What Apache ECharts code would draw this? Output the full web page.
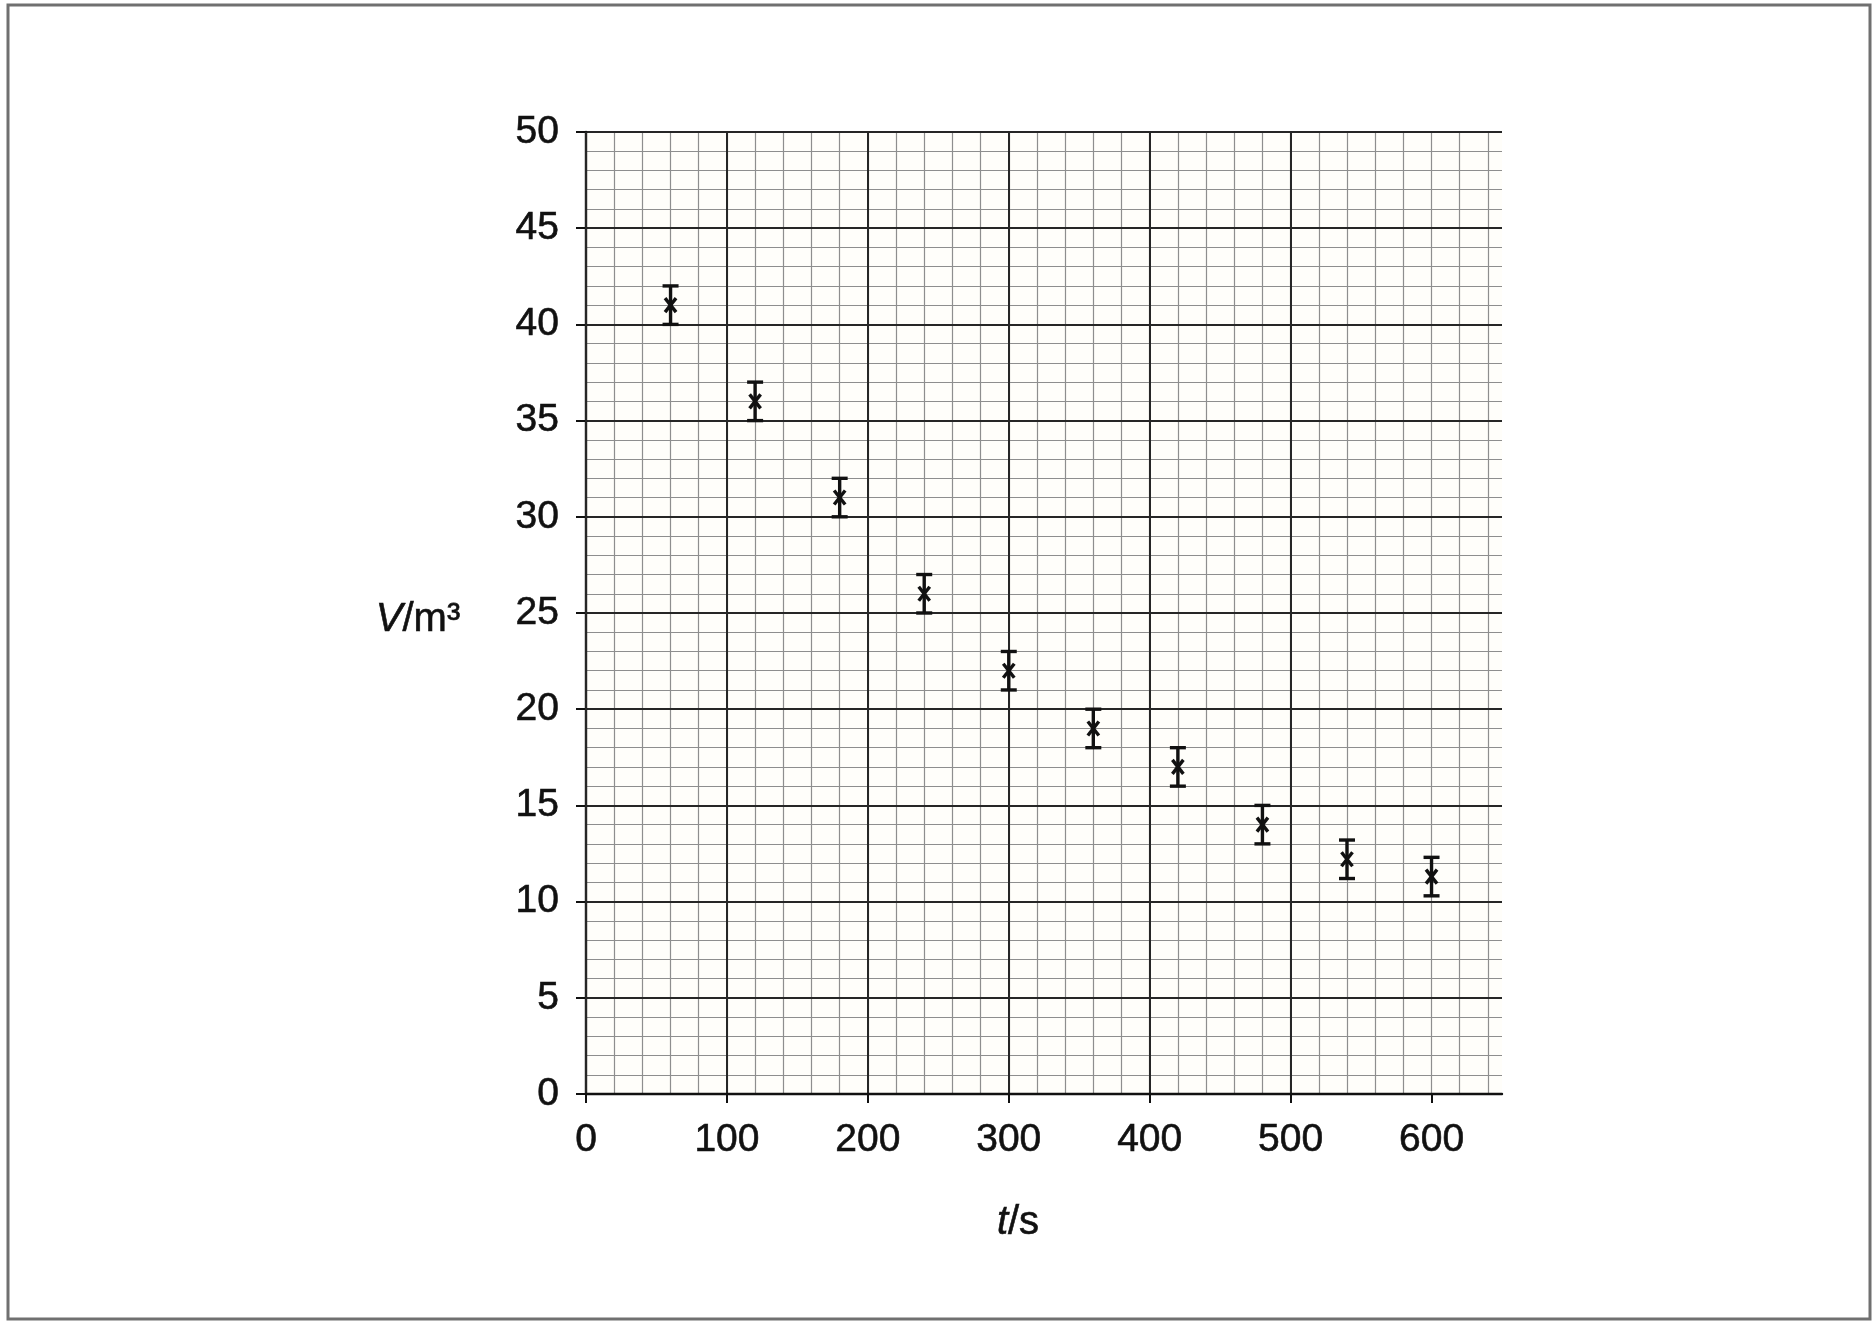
<!DOCTYPE html>
<html><head><meta charset="utf-8">
<script src="https://cdn.jsdelivr.net/npm/echarts@6/dist/echarts.min.js"></script>
<style>html,body{margin:0;padding:0;background:#fff}#c{width:1876px;height:1321px}</style>
</head><body><div id="c"></div>
<script>
// Data
const times = [60, 120, 180, 240, 300, 360, 420, 480, 540, 600];          // t / s
const volumes = [41, 36, 31, 26, 22, 19, 17, 14, 12.2, 11.3];             // V / m^3
const errors = [1, 1, 1, 1, 1, 1, 1, 1, 1, 1];                            // ± error
const xTickValues = [0, 100, 200, 300, 400, 500, 600];
const yTickValues = [0, 5, 10, 15, 20, 25, 30, 35, 40, 45, 50];

const FONT = "'Liberation Sans', Arial, sans-serif";
const INK = '#111111';
const MAJOR = '#262626';
const MINOR = '#8e8e8e';

const chart = echarts.init(document.getElementById('c'), null, {renderer: 'canvas'});

const seriesData = times.map((t, i) => [t, volumes[i], errors[i]]);

const labelStyle = {fontSize: 39, color: INK, fontFamily: FONT, textBorderColor: INK, textBorderWidth: 0.6};

chart.setOption({
  backgroundColor: '#ffffff',
  animation: false,
  grid: {left: 586, top: 132, width: 916, height: 962, show: true, backgroundColor: '#fffefa', borderWidth: 0},
  xAxis: [
    {
      type: 'value', min: 0, max: 650, interval: 100, position: 'bottom', z: 3,
      axisLine: {show: true, onZero: false, lineStyle: {color: INK, width: 2.4}},
      axisTick: {show: true, length: 9, customValues: xTickValues, lineStyle: {color: INK, width: 2}},
      axisLabel: Object.assign({customValues: xTickValues, margin: 27}, labelStyle),
      splitLine: {show: true, showMaxLine: false, lineStyle: {color: MAJOR, width: 2}}
    },
    {
      type: 'value', min: 0, max: 650, interval: 20, position: 'top', z: 1,
      axisLine: {show: false}, axisTick: {show: false}, axisLabel: {show: false},
      splitLine: {show: true, showMaxLine: false, showMinLine: false, lineStyle: {color: MINOR, width: 1.2}}
    }
  ],
  yAxis: {
    type: 'value', min: 0, max: 50, interval: 5, z: 2,
    axisLine: {show: true, onZero: false, lineStyle: {color: INK, width: 2.4}},
    axisTick: {show: true, length: 10, lineStyle: {color: INK, width: 2}},
    axisLabel: Object.assign({customValues: yTickValues, margin: 27}, labelStyle),
    splitLine: {show: true, lineStyle: {color: MAJOR, width: 2}},
    minorTick: {show: false, splitNumber: 5},
    minorSplitLine: {show: true, lineStyle: {color: MINOR, width: 1.2}}
  },
  series: [{
    type: 'custom',
    xAxisIndex: 0,
    yAxisIndex: 0,
    z: 10,
    data: seriesData,
    encode: {x: 0, y: 1},
    renderItem: function (params, api) {
      const x = api.value(0), y = api.value(1), e = api.value(2);
      const c = api.coord([x, y]);
      const hi = api.coord([x, y + e]);
      const lo = api.coord([x, y - e]);
      const cap = 8, s = 5.5;
      const st = {stroke: INK, lineWidth: 3.4};
      return {
        type: 'group',
        children: [
          {type: 'line', shape: {x1: c[0], y1: hi[1], x2: c[0], y2: lo[1]}, style: st},
          {type: 'line', shape: {x1: c[0] - cap, y1: hi[1], x2: c[0] + cap, y2: hi[1]}, style: st},
          {type: 'line', shape: {x1: c[0] - cap, y1: lo[1], x2: c[0] + cap, y2: lo[1]}, style: st},
          {type: 'line', shape: {x1: c[0] - s, y1: c[1] - s - 1.5, x2: c[0] + s, y2: c[1] + s + 1.5}, style: st},
          {type: 'line', shape: {x1: c[0] - s, y1: c[1] + s + 1.5, x2: c[0] + s, y2: c[1] - s - 1.5}, style: st}
        ]
      };
    }
  }],
  graphic: [
    {type: 'rect', silent: true, z: 0,
      shape: {x: 8, y: 5, width: 1862, height: 1314},
      style: {fill: 'none', stroke: '#707070', lineWidth: 3}},
    {type: 'text', z: 20, x: 418, y: 620,
      style: {text: '{i|V}/m³', fill: INK, font: '40px ' + FONT, textAlign: 'center', textVerticalAlign: 'middle',
        stroke: INK, lineWidth: 0.6,
        rich: {i: {fontStyle: 'italic', fontSize: 40, fontFamily: FONT, fill: INK}}}},
    {type: 'text', z: 20, x: 1018, y: 1223,
      style: {text: '{i|t}/s', fill: INK, font: '40px ' + FONT, textAlign: 'center', textVerticalAlign: 'middle',
        stroke: INK, lineWidth: 0.6,
        rich: {i: {fontStyle: 'italic', fontSize: 40, fontFamily: FONT, fill: INK}}}}
  ]
});
</script>
</body></html>
